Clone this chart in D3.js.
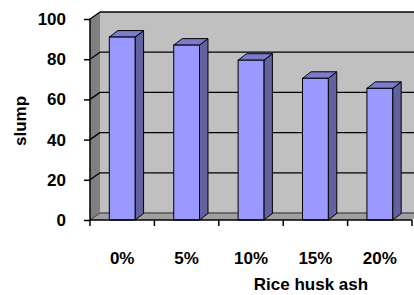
<!DOCTYPE html>
<html>
<head>
<meta charset="utf-8">
<script src="https://cdn.jsdelivr.net/npm/d3@7"></script>
<style>
  body { margin: 0; background: #fff; }
  svg { display: block; font-family: "Liberation Sans", Arial, sans-serif; font-weight: bold; }
</style>
</head>
<body>
<svg id="chart" width="414" height="295"></svg>
<script>
// --- Data ---
const categories = ["0%", "5%", "10%", "15%", "20%"];
const slump = [91, 87, 79.5, 70.5, 65.5];
const yTicks = [0, 20, 40, 60, 80, 100];

// --- Layout ---
const front = { left: 90, right: 412, bottom: 220, top: 19 };
const wallDepth = { dx: 10, dy: -7 };
const barDepth = { dx: 8.5, dy: -6.5 };

const svg = d3.select("#chart");

const x = d3.scaleBand().domain(categories).range([front.left, front.right]);
const y = d3.scaleLinear().domain([0, 100]).range([front.bottom, front.top]);

const pts = p => p.map(d => d.join(",")).join(" ");

// --- Walls ---
// back wall
svg.append("rect")
    .attr("x", front.left + wallDepth.dx)
    .attr("y", y(100) + wallDepth.dy)
    .attr("width", front.right - front.left)
    .attr("height", y(0) - y(100))
    .attr("fill", "#c0c0c0");

// left side wall
svg.append("polygon")
    .attr("points", pts([
        [front.left, y(100)], [front.left + wallDepth.dx, y(100) + wallDepth.dy],
        [front.left + wallDepth.dx, y(0) + wallDepth.dy], [front.left, y(0)]
    ]))
    .attr("fill", "#808080");

// floor
svg.append("polygon")
    .attr("points", pts([
        [front.left, y(0)], [front.left + wallDepth.dx, y(0) + wallDepth.dy],
        [front.right + wallDepth.dx, y(0) + wallDepth.dy], [front.right, y(0)]
    ]))
    .attr("fill", "#a0a0a0");

// gridlines: back wall + diagonal on side wall
yTicks.forEach(t => {
    svg.append("line")
        .attr("x1", front.left + wallDepth.dx).attr("x2", front.right + wallDepth.dx)
        .attr("y1", y(t) + wallDepth.dy).attr("y2", y(t) + wallDepth.dy)
        .attr("stroke", t === 0 ? "#555" : "#000").attr("stroke-width", 1.3);
    svg.append("line")
        .attr("x1", front.left).attr("x2", front.left + wallDepth.dx)
        .attr("y1", y(t)).attr("y2", y(t) + wallDepth.dy)
        .attr("stroke", t === 0 ? "#555" : "#000").attr("stroke-width", 1.3);
});

// --- Bars ---
const barW = x.bandwidth() * 0.4;
const bars = svg.selectAll(".bar")
    .data(categories.map((c, i) => ({ cat: c, value: slump[i] })))
    .enter().append("g").attr("class", "bar");

bars.each(function (d) {
    const g = d3.select(this);
    const x0 = x(d.cat) + (x.bandwidth() - barW) / 2;
    const x1 = x0 + barW;
    const yt = y(d.value), yb = y(0);
    // side
    g.append("polygon")
        .attr("points", pts([[x1, yt], [x1 + barDepth.dx, yt + barDepth.dy],
            [x1 + barDepth.dx, yb + barDepth.dy], [x1, yb]]))
        .attr("fill", "#62629e").attr("stroke", "#000").attr("stroke-width", 1).attr("stroke-linejoin", "round");
    // top
    g.append("polygon")
        .attr("points", pts([[x0, yt], [x0 + barDepth.dx, yt + barDepth.dy],
            [x1 + barDepth.dx, yt + barDepth.dy], [x1, yt]]))
        .attr("fill", "#7b7bd0").attr("stroke", "#000").attr("stroke-width", 1).attr("stroke-linejoin", "round");
    // front
    g.append("rect")
        .attr("x", x0).attr("y", yt)
        .attr("width", barW).attr("height", yb - yt)
        .attr("fill", "#9999ff").attr("stroke", "#000").attr("stroke-width", 1);
});

// --- Axes ---
const yAxis = svg.append("g")
    .attr("transform", `translate(${front.left},0)`)
    .call(d3.axisLeft(y).tickValues(yTicks).tickSize(6).tickPadding(18));
yAxis.select(".domain").attr("stroke", "#000").attr("stroke-width", 1.5)
    .attr("d", `M0,${y(0)}V${y(100)}`);
yAxis.selectAll(".tick line").attr("stroke", "#000").attr("stroke-width", 1.5);
yAxis.selectAll(".tick text")
    .attr("font-size", 17).attr("font-weight", "bold").attr("font-family", "Liberation Sans, Arial, sans-serif")
    .attr("fill", "#000");

// x axis line
svg.append("line")
    .attr("x1", front.left).attr("x2", front.right)
    .attr("y1", y(0)).attr("y2", y(0))
    .attr("stroke", "#000").attr("stroke-width", 1.5);

// x ticks at band edges
const edges = categories.map(c => x(c)).concat([front.right]);
svg.selectAll(".xtick").data(edges).enter().append("line")
    .attr("x1", d => d).attr("x2", d => d)
    .attr("y1", y(0)).attr("y2", y(0) + 6)
    .attr("stroke", "#000").attr("stroke-width", 1.5);

// x labels
svg.selectAll(".xlab").data(categories).enter().append("text")
    .attr("x", d => x(d) + x.bandwidth() / 2)
    .attr("y", 264)
    .attr("text-anchor", "middle")
    .attr("font-size", 17)
    .text(d => d);

// axis titles
svg.append("text")
    .attr("x", 311).attr("y", 290)
    .attr("text-anchor", "middle")
    .attr("font-size", 17)
    .text("Rice husk ash");

svg.append("text")
    .attr("transform", "translate(26,121) rotate(-90)")
    .attr("text-anchor", "middle")
    .attr("font-size", 17)
    .text("slump");
</script>
</body>
</html>
